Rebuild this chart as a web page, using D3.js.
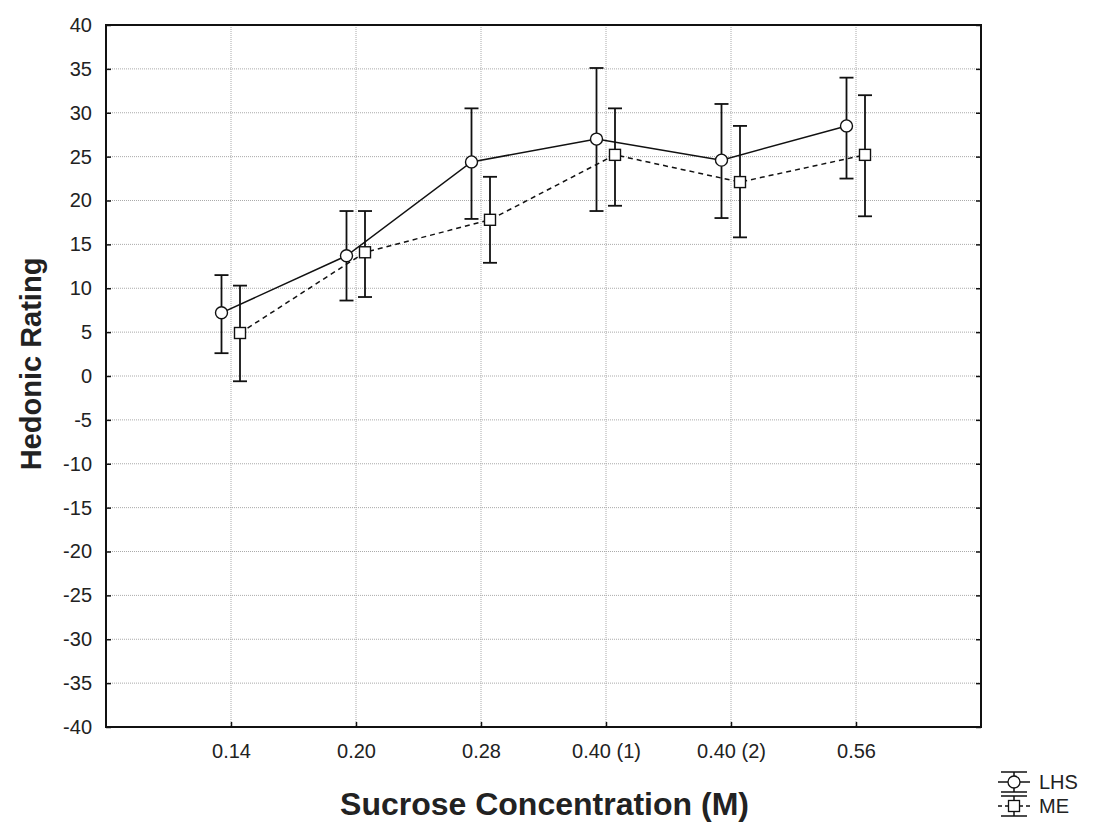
<!DOCTYPE html>
<html>
<head>
<meta charset="utf-8">
<script src="https://cdn.jsdelivr.net/npm/d3@7"></script>
<style>
  body { margin: 0; background: #fff; }
  svg text { font-family: "Liberation Sans", Arial, sans-serif; fill: #222; }
</style>
</head>
<body>
<div id="chart"></div>
<script>
// data
var categories = ["0.14", "0.20", "0.28", "0.40 (1)", "0.40 (2)", "0.56"];
var lhsMean = [7.2, 13.7, 24.4, 27.0, 24.6, 28.5];
var lhsLow  = [2.6, 8.6, 17.9, 18.8, 18.0, 22.5];
var lhsHigh = [11.5, 18.8, 30.5, 35.1, 31.0, 34.0];
var meMean = [4.9, 14.1, 17.8, 25.2, 22.1, 25.2];
var meLow  = [-0.6, 9.0, 12.9, 19.4, 15.8, 18.2];
var meHigh = [10.3, 18.8, 22.7, 30.5, 28.5, 32.0];
var yTicks = d3.range(-40, 41, 5);

var svgWidth = 1101, svgHeight = 822;
var margin = { top: 25, right: 120, bottom: 95, left: 106 };
var width = svgWidth - margin.left - margin.right;
var height = svgHeight - margin.top - margin.bottom;

var svg = d3.select("#chart").append("svg")
    .attr("width", svgWidth)
    .attr("height", svgHeight);

var chartGroup = svg.append("g")
    .attr("transform", `translate(${margin.left}, ${margin.top})`);

var xScale = d3.scalePoint()
    .domain(categories)
    .range([0, width])
    .padding(1);

var yScale = d3.scaleLinear()
    .domain([-40, 40])
    .range([height, 0]);

// grid
chartGroup.append("g").selectAll("line")
    .data(yTicks.filter(d => d > -40 && d < 40))
    .enter().append("line")
    .attr("x1", 0).attr("x2", width)
    .attr("y1", d => yScale(d)).attr("y2", d => yScale(d))
    .attr("stroke", "#aaa").attr("stroke-dasharray", "1,1");

chartGroup.append("g").selectAll("line")
    .data(categories)
    .enter().append("line")
    .attr("x1", d => xScale(d)).attr("x2", d => xScale(d))
    .attr("y1", 0).attr("y2", height)
    .attr("stroke", "#aaa").attr("stroke-dasharray", "1,1");

// axes (ticks pointing inside)
var leftAxis = d3.axisLeft(yScale).tickValues(yTicks).tickSize(-5).tickPadding(14)
    .tickFormat(d => String(d));
var rightAxis = d3.axisRight(yScale).tickValues(yTicks).tickSize(-5).tickFormat("");
var bottomAxis = d3.axisBottom(xScale).tickSize(-5).tickPadding(17);

var yAxisG = chartGroup.append("g").call(leftAxis);
chartGroup.append("g").attr("transform", `translate(${width}, 0)`).call(rightAxis);
var xAxisG = chartGroup.append("g").attr("transform", `translate(0, ${height})`).call(bottomAxis);

[yAxisG, xAxisG].forEach(g => {
    g.selectAll("text").style("font-size", "20px").attr("fill", "#222");
});
chartGroup.selectAll(".domain").remove();
chartGroup.selectAll(".tick line").attr("stroke", "#111").attr("stroke-width", 1.5);

// frame
chartGroup.append("rect")
    .attr("width", width).attr("height", height)
    .attr("fill", "none").attr("stroke", "#111").attr("stroke-width", 2);

// series
var series = [
    { name: "LHS", mean: lhsMean, low: lhsLow, high: lhsHigh, dx: -9.5, dash: null, shape: "circle" },
    { name: "ME", mean: meMean, low: meLow, high: meHigh, dx: 9, dash: "5,4", shape: "square" }
];

series.forEach(s => {
    var pts = categories.map((c, i) => ({ x: xScale(c) + s.dx, m: s.mean[i], lo: s.low[i], hi: s.high[i] }));

    var line = d3.line().x(d => d.x).y(d => yScale(d.m));
    chartGroup.append("path")
        .datum(pts)
        .attr("d", line)
        .attr("fill", "none")
        .attr("stroke", "#111")
        .attr("stroke-width", 1.5)
        .attr("stroke-dasharray", s.dash);

    var bars = chartGroup.append("g").selectAll("g").data(pts).enter().append("g");
    bars.append("line")
        .attr("x1", d => d.x).attr("x2", d => d.x)
        .attr("y1", d => yScale(d.lo)).attr("y2", d => yScale(d.hi))
        .attr("stroke", "#111").attr("stroke-width", 1.8);
    bars.append("line")
        .attr("x1", d => d.x - 7).attr("x2", d => d.x + 7)
        .attr("y1", d => yScale(d.hi)).attr("y2", d => yScale(d.hi))
        .attr("stroke", "#111").attr("stroke-width", 1.8);
    bars.append("line")
        .attr("x1", d => d.x - 7).attr("x2", d => d.x + 7)
        .attr("y1", d => yScale(d.lo)).attr("y2", d => yScale(d.lo))
        .attr("stroke", "#111").attr("stroke-width", 1.8);

    if (s.shape === "circle") {
        bars.append("circle")
            .attr("cx", d => d.x).attr("cy", d => yScale(d.m)).attr("r", 6)
            .attr("fill", "#fff").attr("stroke", "#111").attr("stroke-width", 1.4);
    } else {
        bars.append("rect")
            .attr("x", d => d.x - 5.5).attr("y", d => yScale(d.m) - 5.5)
            .attr("width", 11).attr("height", 11)
            .attr("fill", "#fff").attr("stroke", "#111").attr("stroke-width", 1.4);
    }
});

// axis titles
chartGroup.append("text")
    .attr("transform", "rotate(-90)")
    .attr("x", -height / 2 + 12)
    .attr("y", -margin.left + 41)
    .attr("text-anchor", "middle")
    .style("font-size", "29px")
    .style("font-weight", "bold")
    .attr("fill", "#111")
    .text("Hedonic Rating");

chartGroup.append("text")
    .attr("x", width / 2 + 1)
    .attr("y", height + 88)
    .attr("text-anchor", "middle")
    .style("font-size", "32px")
    .style("font-weight", "bold")
    .attr("fill", "#111")
    .text("Sucrose Concentration (M)");

// legend
var legend = svg.append("g").attr("transform", "translate(998, 772)");
series.forEach((s, i) => {
    var g = legend.append("g").attr("transform", `translate(0, ${i * 24})`);
    var cx = 16;
    g.append("line").attr("x1", cx - 13).attr("x2", cx + 13).attr("y1", 0).attr("y2", 0)
        .attr("stroke", "#111").attr("stroke-width", 1.5);
    g.append("line").attr("x1", cx - 13).attr("x2", cx + 13).attr("y1", 20).attr("y2", 20)
        .attr("stroke", "#111").attr("stroke-width", 1.5);
    g.append("line").attr("x1", cx).attr("x2", cx).attr("y1", 0).attr("y2", 20)
        .attr("stroke", "#111").attr("stroke-width", 1.5);
    g.append("line").attr("x1", 0).attr("x2", 32).attr("y1", 10).attr("y2", 10)
        .attr("stroke", "#111").attr("stroke-width", 1.5)
        .attr("stroke-dasharray", s.dash ? "4,3" : null);
    if (s.shape === "circle") {
        g.append("circle").attr("cx", cx).attr("cy", 10).attr("r", 6)
            .attr("fill", "#fff").attr("stroke", "#111").attr("stroke-width", 1.3);
    } else {
        g.append("rect").attr("x", cx - 5.5).attr("y", 4.5).attr("width", 11).attr("height", 11)
            .attr("fill", "#fff").attr("stroke", "#111").attr("stroke-width", 1.3);
    }
    g.append("text").attr("x", 41).attr("y", 17)
        .style("font-size", "20px")
        .text(s.name);
});
</script>
</body>
</html>
